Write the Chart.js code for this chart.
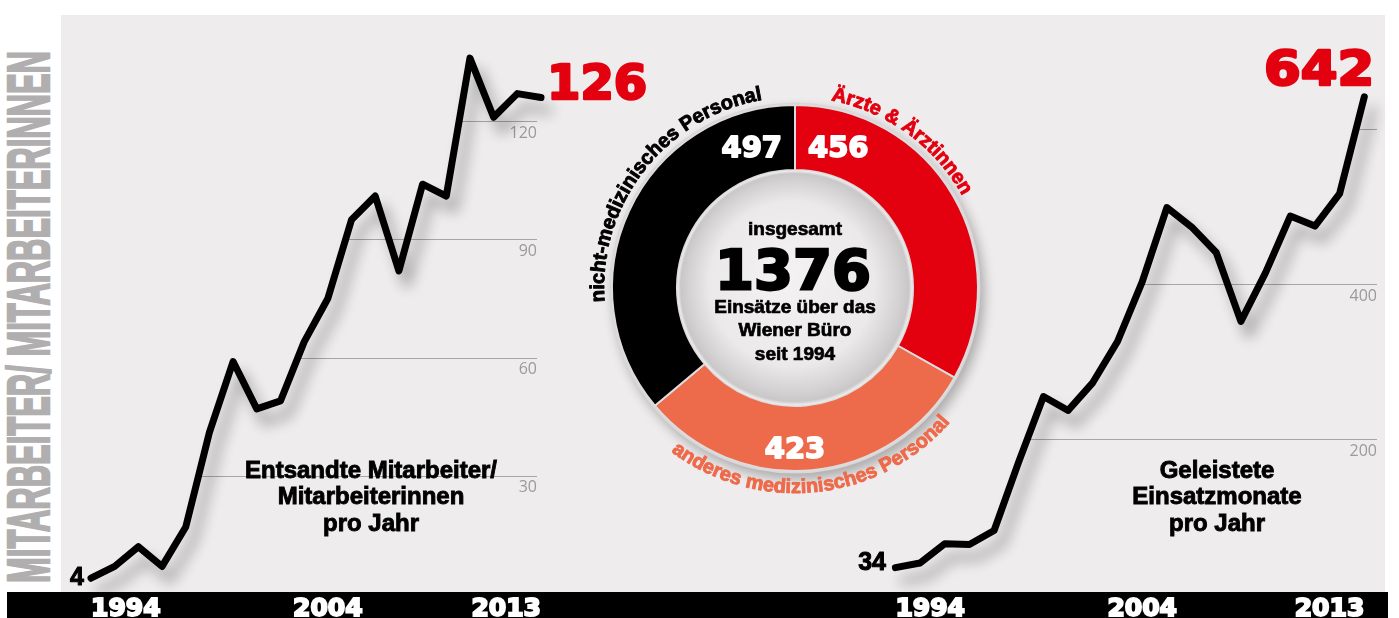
<!DOCTYPE html>
<html lang="de">
<head>
<meta charset="utf-8">
<title>Einsätze Wiener Büro 1994–2013</title>
<script src="https://cdn.jsdelivr.net/npm/chart.js@4.4.1/dist/chart.umd.min.js"></script>
<style>
  html, body { margin: 0; padding: 0; background: #fff; }
  body { width: 1399px; height: 618px; position: relative; overflow: hidden; }
  #panel { position: absolute; left: 61px; top: 15px; width: 1324px; height: 577px; background: #eeeced; }
  #bar { position: absolute; left: 7px; top: 592px; width: 1381px; height: 26px; background: #000; }
  canvas { position: absolute; top: 0; }
  #staffChart { left: 0; }
  #monthsChart { left: 800px; }
  #mixChart { left: 555px; top: 48px; }
  .txt { position: absolute; white-space: nowrap; line-height: 1; font-weight: bold; }
</style>
</head>
<body>
<div id="panel"></div>
<div id="bar"></div>
<div id="vtitle" class="txt">MITARBEITER/ MITARBEITERINNEN</div>
<canvas id="staffChart" width="700" height="618"></canvas>
<canvas id="monthsChart" width="599" height="618"></canvas>
<canvas id="mixChart" width="480" height="480"></canvas>
<script>
const years = [1994, 1995, 1996, 1997, 1998, 1999, 2000, 2001, 2002, 2003,
               2004, 2005, 2006, 2007, 2008, 2009, 2010, 2011, 2012, 2013];
const tickYears = [1994, 2004, 2013];

// Entsandte Mitarbeiter/Mitarbeiterinnen pro Jahr
const staffPerYear = [4, 7, 12, 7, 17, 41, 59, 47, 49, 64, 75, 95, 101, 82, 104, 101, 136, 121, 127, 126];
const staffTicks = [30, 60, 90, 120];

// Geleistete Einsatzmonate pro Jahr
const monthsPerYear = [34, 40, 65, 64, 82, 171, 255, 237, 273, 326, 403, 499, 474, 441, 352, 415, 488, 475, 517, 642];
const monthsGrid = [200, 400, 600];
const monthsTicks = [200, 400];

// Einsätze nach Berufsgruppe
const groupLabels = ['Ärzte & Ärztinnen', 'anderes medizinisches Personal', 'nicht-medizinisches Personal'];
const groupValues = [456, 423, 497];

const staffTitle = ['Entsandte Mitarbeiter/', 'Mitarbeiterinnen', 'pro Jahr'];
const monthsTitle = ['Geleistete', 'Einsatzmonate', 'pro Jahr'];
const centerCaption = ['Einsätze über das', 'Wiener Büro', 'seit 1994'];

const RED = '#e3000f';
const ORANGE = '#ed6a4b';
const LIB = '"Liberation Sans", Arial, sans-serif';
const DJV = '"DejaVu Sans", Verdana, sans-serif';

// html text placed by baseline
function addText(str, x, baseline, size, opts) {
  opts = opts || {};
  const el = document.createElement('div');
  el.className = 'txt';
  el.textContent = str;
  el.style.fontSize = size + 'px';
  el.style.fontFamily = opts.family || LIB;
  el.style.color = opts.color || '#000';
  el.style.top = (baseline - 0.846 * size) + 'px';
  el.style.left = x + 'px';
  el.style.transform = 'translateX(-50%)';
  if (opts.stroke) el.style.webkitTextStroke = opts.stroke;
  el.style.zIndex = 5;
  document.body.appendChild(el);
  return el;
}

// gridlines only right of where the line first reaches them, plus drop shadow and end values
const partialGrid = {
  id: 'partialGrid',
  beforeDatasetsDraw(chart, args, opts) {
    const { ctx, chartArea, scales: { x, y } } = chart;
    const vals = chart.data.datasets[0].data;
    ctx.save();
    ctx.strokeStyle = opts.color;
    ctx.lineWidth = 1;
    opts.values.forEach(t => {
      let startX = null;
      for (let i = 0; i < vals.length - 1; i++) {
        if ((vals[i] - t) * (vals[i + 1] - t) <= 0) {
          const f = (t - vals[i]) / (vals[i + 1] - vals[i]);
          const x0 = x.getPixelForValue(i), x1 = x.getPixelForValue(i + 1);
          startX = x0 + f * (x1 - x0);
          break;
        }
      }
      if (startX === null) return;
      const py = Math.round(y.getPixelForValue(t)) + 0.5;
      ctx.beginPath();
      ctx.moveTo(startX, py);
      ctx.lineTo(chartArea.right + opts.extend, py);
      ctx.stroke();
    });
    ctx.restore();
    ctx.save();
    ctx.shadowColor = 'rgba(0,0,0,0.33)';
    ctx.shadowBlur = 14;
    ctx.shadowOffsetX = 8;
    ctx.shadowOffsetY = 13;
  },
  afterDatasetsDraw(chart, args, opts) {
    const { ctx, scales: { x, y } } = chart;
    ctx.restore();
    const vals = chart.data.datasets[0].data;
    [['first', 0], ['last', vals.length - 1]].forEach(([key, i]) => {
      const o = opts[key];
      const px = x.getPixelForValue(i) + o.dx;
      const py = y.getPixelForValue(vals[i]) + o.dy;
      ctx.save();
      ctx.translate(px, py);
      ctx.scale(o.sx, 1);
      ctx.font = 'bold ' + o.size + 'px ' + o.family;
      ctx.textAlign = o.align;
      ctx.textBaseline = 'alphabetic';
      ctx.fillStyle = o.color;
      ctx.strokeStyle = o.color;
      ctx.lineWidth = o.stroke;
      ctx.lineJoin = 'round';
      ctx.fillText(String(vals[i]), 0, 0);
      if (o.stroke) ctx.strokeText(String(vals[i]), 0, 0);
      ctx.restore();
    });
  }
};

function lineChart(id, values, cfg) {
  return new Chart(document.getElementById(id), {
    type: 'line',
    data: {
      labels: years,
      datasets: [{
        data: values,
        borderColor: '#000',
        borderWidth: 7,
        pointRadius: 0,
        tension: 0,
        borderJoinStyle: 'round',
        borderCapStyle: 'round',
        clip: false
      }]
    },
    options: {
      responsive: false,
      animation: false,
      events: [],
      layout: { autoPadding: false, padding: cfg.padding },
      plugins: {
        legend: { display: false },
        tooltip: { enabled: false },
        partialGrid: cfg.grid
      },
      scales: {
        x: {
          type: 'category',
          grid: { display: false, drawTicks: false },
          border: { display: false },
          ticks: {
            autoSkip: false,
            maxRotation: 0,
            minRotation: 0,
            align: 'inner',
            padding: 0,
            color: '#fff',
            textStrokeColor: '#fff',
            textStrokeWidth: 2,
            font: { family: DJV, weight: 'bold', size: 25 },
            callback: function (v) {
              const yr = this.getLabelForValue(v);
              return tickYears.includes(Number(yr)) ? String(yr) : '';
            }
          },
          afterFit: s => { s.height = 24; s.paddingLeft = 0; s.paddingRight = 0; }
        },
        y: {
          position: 'right',
          min: 0,
          max: cfg.max,
          grid: { display: false, drawTicks: false },
          border: { display: false },
          ticks: {
            stepSize: cfg.step,
            includeBounds: false,
            mirror: true,
            padding: cfg.tickPad,
            labelOffset: 12,
            color: '#9a9a9a',
            font: { family: '"Open Sans", sans-serif', size: 16 },
            callback: v => cfg.labels.includes(v) ? String(v) : ''
          },
          afterFit: s => { s.width = 0; s.paddingTop = 0; s.paddingBottom = 0; }
        }
      }
    },
    plugins: [partialGrid]
  });
}

lineChart('staffChart', staffPerYear, {
  padding: { left: 91, right: 159, top: 42.4, bottom: 0 },
  max: 140, step: 30, tickPad: -4, labels: staffTicks,
  grid: {
    values: staffTicks, color: '#a6a6a6', extend: -4,
    first: { dx: -7, dy: 7, size: 25, family: LIB, color: '#000', align: 'right', sx: 1, stroke: 1 },
    last: { dx: 6, dy: 1.5, size: 48, family: DJV, color: RED, align: 'left', sx: 1, stroke: 2.6 }
  }
});

lineChart('monthsChart', monthsPerYear, {
  padding: { left: 95.4, right: 34.7, top: 51.85, bottom: 0 },
  max: 700, step: 200, tickPad: 12.7, labels: monthsTicks,
  grid: {
    values: monthsGrid, color: '#a6a6a6', extend: 12.7,
    first: { dx: -9.4, dy: 2.4, size: 25, family: LIB, color: '#000', align: 'right', sx: 1, stroke: 1 },
    last: { dx: 10, dy: -12, size: 48, family: DJV, color: RED, align: 'right', sx: 1.1, stroke: 2.6 }
  }
});

// text along a circle; outward = glyph tops away from centre, read clockwise
function arcText(ctx, text, cx, cy, r, midDeg, outward) {
  const dir = outward ? 1 : -1;
  const total = ctx.measureText(text).width;
  let ang = midDeg * Math.PI / 180 - dir * total / 2 / r;
  for (const ch of text) {
    const w = ctx.measureText(ch).width;
    const a = ang + dir * w / 2 / r;
    ctx.save();
    ctx.translate(cx + r * Math.sin(a), cy - r * Math.cos(a));
    ctx.rotate(outward ? a : a - Math.PI);
    ctx.fillText(ch, 0, 0);
    ctx.strokeText(ch, 0, 0);
    ctx.restore();
    ang += dir * w / r;
  }
}

const ringDeco = {
  id: 'ringDeco',
  beforeDatasetsDraw(chart) {
    const { ctx } = chart;
    const arc = chart.getDatasetMeta(0).data[0];
    const { x, y, outerRadius } = arc.getProps(['x', 'y', 'outerRadius'], true);
    ctx.save();
    ctx.shadowColor = 'rgba(0,0,0,0.28)';
    ctx.shadowBlur = 12;
    ctx.shadowOffsetX = 4;
    ctx.shadowOffsetY = 6;
    ctx.beginPath();
    ctx.arc(x, y, outerRadius + 2.5, 0, Math.PI * 2);
    ctx.fillStyle = '#d9d7d7';
    ctx.fill();
    ctx.restore();
  },
  afterDatasetsDraw(chart, args, opts) {
    const { ctx } = chart;
    const ds = chart.data.datasets[0];
    const arc = chart.getDatasetMeta(0).data[0];
    const { x, y, innerRadius } = arc.getProps(['x', 'y', 'innerRadius'], true);

    // inner disk
    const ri = innerRadius - 0.5;
    const g = ctx.createRadialGradient(x - 10, y - 15, 0, x, y, ri);
    g.addColorStop(0, '#f4f2f2');
    g.addColorStop(0.7, '#ebe9e9');
    g.addColorStop(0.9, '#d3d1d1');
    g.addColorStop(0.97, '#c9c7c7');
    g.addColorStop(1, '#f2f1f1');
    ctx.save();
    ctx.beginPath();
    ctx.arc(x, y, ri, 0, Math.PI * 2);
    ctx.fillStyle = g;
    ctx.fill();
    ctx.restore();

    // values inside the ring
    ctx.save();
    ctx.font = 'bold 29px ' + DJV;
    ctx.textAlign = 'center';
    ctx.textBaseline = 'alphabetic';
    ctx.fillStyle = '#fff';
    ctx.strokeStyle = '#fff';
    ctx.lineWidth = 1.8;
    ctx.lineJoin = 'round';
    ds.data.forEach((v, i) => {
      const [deg, r] = opts.valuePos[i];
      const a = deg * Math.PI / 180;
      const px = x + r * Math.sin(a);
      const py = y - r * Math.cos(a) + 10.5;
      ctx.fillText(String(v), px, py);
      ctx.strokeText(String(v), px, py);
    });
    ctx.restore();

    // group names around the ring
    ctx.save();
    ctx.font = 'bold 20px ' + LIB;
    ctx.textAlign = 'center';
    ctx.textBaseline = 'alphabetic';
    ctx.lineWidth = 0.9;
    ctx.lineJoin = 'round';
    chart.data.labels.forEach((lab, i) => {
      const p = opts.labelPos[i];
      ctx.fillStyle = ds.backgroundColor[i];
      ctx.strokeStyle = ds.backgroundColor[i];
      arcText(ctx, lab, x, y, p.r, p.mid, p.outward);
    });
    ctx.restore();
  }
};

new Chart(document.getElementById('mixChart'), {
  type: 'doughnut',
  data: {
    labels: groupLabels,
    datasets: [{
      data: groupValues,
      backgroundColor: [RED, ORANGE, '#000'],
      borderColor: '#dddbdb',
      borderWidth: 2,
      hoverOffset: 0
    }]
  },
  options: {
    responsive: false,
    animation: false,
    events: [],
    rotation: 0,
    cutout: 118,
    layout: { autoPadding: false, padding: 56 },
    plugins: {
      legend: { display: false },
      tooltip: { enabled: false },
      ringDeco: {
        valuePos: [[17, 148], [180, 159], [-17, 148]],
        labelPos: [
          { mid: 36, r: 191, outward: true },
          { mid: 174, r: 205, outward: false },
          { mid: -52, r: 191, outward: true }
        ]
      }
    }
  },
  plugins: [ringDeco]
});

// centre of the ring
const total = groupValues.reduce((a, b) => a + b, 0);
addText('insgesamt', 795, 235, 19, { stroke: '0.7px #000' });
addText(String(total), 793, 289, 56, { family: DJV, stroke: '2.6px #000' });
centerCaption.forEach((t, i) => addText(t, 795, 313 + i * 23.5, 19, { stroke: '0.7px #000' }));

// chart titles
staffTitle.forEach((t, i) => addText(t, 371, 478 + i * 26.5, 24, { stroke: '0.9px #000' }));
monthsTitle.forEach((t, i) => addText(t, 1217, 478 + i * 26.5, 24, { stroke: '0.9px #000' }));

// vertical title on the left
const vt = document.getElementById('vtitle');
const vSize = 59;
vt.style.fontSize = vSize + 'px';
vt.style.fontFamily = '"Liberation Sans Narrow", "Liberation Sans", Arial, sans-serif';
vt.style.color = '#b1aeaf';
vt.style.webkitTextStroke = '2.5px #b1aeaf';
vt.style.left = '0px';
vt.style.top = '0px';
vt.style.transformOrigin = '0 0';
const vw = vt.offsetWidth;
const vs = 532 / vw;
vt.style.transform = 'translate(29px, 317px) rotate(-90deg) scale(' + vs + ', 1) translate(' + (-vw / 2) + 'px, ' + (-0.49 * vSize) + 'px)';
</script>
</body>
</html>
